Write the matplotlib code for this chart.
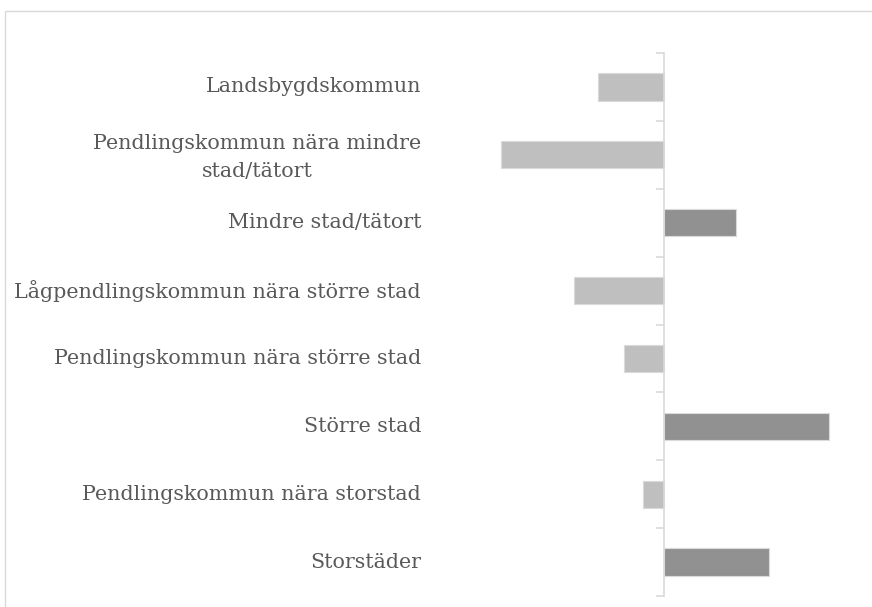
import matplotlib
matplotlib.use("Agg")
import matplotlib.pyplot as plt
from matplotlib.patches import Rectangle
import matplotlib.transforms as mtrans
import numpy as np

categories = [
    "Landsbygdskommun",
    "Pendlingskommun nära mindre\nstad/tätort",
    "Mindre stad/tätort",
    "Lågpendlingskommun nära större stad",
    "Pendlingskommun nära större stad",
    "Större stad",
    "Pendlingskommun nära storstad",
    "Storstäder",
]
values = [-6.6, -16.3, 7.2, -9.0, -4.0, 16.5, -2.1, 10.5]

W, H = 872, 607
fig = plt.figure(figsize=(W / 100, H / 100), dpi=100)
fig.patch.set_facecolor("white")

# chart frame (only left and top visible)
fig.patches.append(Rectangle((4.5 / W, -0.1), 1.2, (H - 11) / H + 0.1,
                             transform=fig.transFigure, fill=False,
                             edgecolor="#D9D9D9", linewidth=1.0))

x0, x1 = 430, 860
zero = 664
top, bot = 53, 596
ax = fig.add_axes([x0 / W, 1 - bot / H, (x1 - x0) / W, (bot - top) / H])
ax.set_xlim((x0 - zero) / 10, (x1 - zero) / 10)
ax.set_ylim(len(categories) - 0.5, -0.5)

y = np.arange(len(categories))
colors = ["#BFBFBF" if v < 0 else "#919191" for v in values]
ax.barh(y, values, height=0.4, color=colors, edgecolor="#DADADA", linewidth=0.8, zorder=2)

for s in ["top", "right", "bottom"]:
    ax.spines[s].set_visible(False)
ax.spines["left"].set_position(("data", 0))
ax.spines["left"].set_color("#D9D9D9")
ax.spines["left"].set_linewidth(1.2)
ax.set_xticks([])

ax.set_yticks(y)
ax.set_yticks(np.arange(-0.5, len(categories), 1.0), minor=True)
ax.tick_params(axis="y", which="major", length=0, pad=0, labelleft=False)
ax.tick_params(axis="y", which="minor", length=6, width=1.2, color="#D9D9D9")

tr = mtrans.blended_transform_factory(mtrans.IdentityTransform(), ax.transData)
for yi, lab in zip(y, categories):
    ax.text(421, yi + (0.04 if "\n" in lab else 0), lab, transform=tr,
            ha="right", va="center", multialignment="center",
            fontsize=14.9, family="DejaVu Serif", color="#595959", linespacing=1.65)

ax.patch.set_alpha(0)
fig.savefig("out.png", dpi=100, facecolor="white")
